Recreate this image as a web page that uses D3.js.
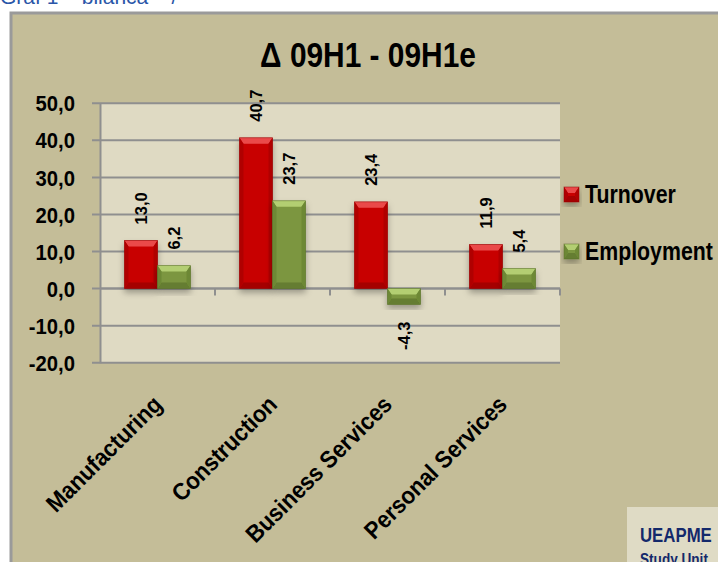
<!DOCTYPE html>
<html>
<head>
<meta charset="utf-8">
<script src="https://cdn.jsdelivr.net/npm/d3@7"></script>
<style>
  body { margin: 0; background: #fff; }
  svg { display: block; font-family: "Liberation Sans", Arial, sans-serif; }
</style>
</head>
<body>
<svg id="chart" width="718" height="562"></svg>
<script>
// data
const categories = ["Manufacturing", "Construction", "Business Services", "Personal Services"];
const series = ["Turnover", "Employment"];
const turnover = [13.0, 40.7, 23.4, 11.9];
const employment = [6.2, 23.7, -4.3, 5.4];
const yTicks = [-20, -10, 0, 10, 20, 30, 40, 50];

const colors = {
  Turnover: { main: "#c80000", top: "#ea4a4a", bottom: "#8e0000", side: "#b00000" },
  Employment: { main: "#7b963f", top: "#b3ce72", bottom: "#566c27", side: "#6d8836" }
};

const svg = d3.select("#chart");
const fmt = v => d3.format(".1f")(v).replace(".", ",").replace("\u2212", "-");

// page heading, cut off at the top
svg.append("text").attr("x", 0).attr("y", 4)
  .attr("font-size", 21).attr("fill", "#2a56a8")
  .text("Graf 1 – bilanca – /");

// outer chart box
svg.append("rect").attr("x", 11).attr("y", 13).attr("width", 720).attr("height", 560)
  .attr("fill", "#c4bd98").attr("stroke", "#9a9a9a").attr("stroke-width", 3);

const defs = svg.append("defs");
const f = defs.append("filter").attr("id", "shadow").attr("x", "-20%").attr("y", "-20%")
  .attr("width", "140%").attr("height", "150%");
f.append("feDropShadow").attr("dx", 0).attr("dy", 4).attr("stdDeviation", 3)
  .attr("flood-color", "#000").attr("flood-opacity", 0.3);

// scales
const x = d3.scaleBand().domain(categories).range([100, 560]);
const x1 = d3.scaleBand().domain(series).range([0, x.bandwidth()]).paddingOuter(0.742);
const y = d3.scaleLinear().domain([-20, 50]).range([362.7, 103.3]);

// plot area
svg.append("rect").attr("x", 100).attr("y", y(50)).attr("width", 460).attr("height", y(-20) - y(50))
  .attr("fill", "#dfdac3");

// gridlines
svg.append("g").selectAll("line").data(yTicks).join("line")
  .attr("x1", 92).attr("x2", 560).attr("y1", d => y(d)).attr("y2", d => y(d))
  .attr("stroke", "#8f8f8f").attr("stroke-width", 2);

// y axis
const yAxis = svg.append("g").attr("transform", "translate(100,0)")
  .call(d3.axisLeft(y).tickValues(yTicks).tickSize(0).tickFormat(""));
yAxis.select(".domain").attr("stroke", "#8f8f8f").attr("stroke-width", 2);
svg.append("g").selectAll("text").data(yTicks).join("text")
  .attr("transform", d => `translate(75,${y(d)}) scale(0.9,1)`)
  .attr("text-anchor", "end").attr("dy", "0.36em")
  .attr("font-size", 22.5).attr("font-weight", "bold")
  .text(fmt);

// x axis at zero
const xAxis = svg.append("g").attr("transform", `translate(0,${y(0)})`);
xAxis.append("line").attr("x1", 100).attr("x2", 560).attr("stroke", "#8f8f8f").attr("stroke-width", 2);
const bounds = categories.map(c => x(c)).concat([x.range()[1]]);
xAxis.selectAll("line.tick").data(bounds.slice(1)).join("line").attr("class", "tick")
  .attr("x1", d => d).attr("x2", d => d).attr("y1", 0).attr("y2", 7)
  .attr("stroke", "#8f8f8f").attr("stroke-width", 2);

// bevelled bar
function bevelBar(g, bx, by, bw, bh, c) {
  const b = Math.min(6, bh / 2), s = 4;
  const gg = g.append("g").attr("filter", "url(#shadow)");
  gg.append("rect").attr("x", bx).attr("y", by).attr("width", bw).attr("height", bh).attr("fill", c.main);
  const pts = a => a.map(p => p.join(",")).join(" ");
  gg.append("polygon").attr("points", pts([[bx, by], [bx + bw, by], [bx + bw - s, by + b], [bx + s, by + b]]))
    .attr("fill", c.top);
  gg.append("polygon").attr("points", pts([[bx, by + bh], [bx + bw, by + bh], [bx + bw - s, by + bh - b], [bx + s, by + bh - b]]))
    .attr("fill", c.bottom).attr("opacity", 0.6);
  gg.append("polygon").attr("points", pts([[bx, by], [bx + s, by + b], [bx + s, by + bh - b], [bx, by + bh]]))
    .attr("fill", c.side);
  gg.append("polygon").attr("points", pts([[bx + bw, by], [bx + bw - s, by + b], [bx + bw - s, by + bh - b], [bx + bw, by + bh]]))
    .attr("fill", c.side);
  gg.append("rect").attr("x", bx).attr("y", by).attr("width", bw).attr("height", bh)
    .attr("fill", "none").attr("stroke", c.bottom).attr("stroke-width", 0.8).attr("opacity", 0.6);
}

const values = { Turnover: turnover, Employment: employment };
const bars = svg.append("g");
const labels = svg.append("g");
series.forEach(s => {
  values[s].forEach((v, i) => {
    const bx = x(categories[i]) + x1(s);
    const bw = x1.bandwidth();
    const top = y(Math.max(0, v)), bot = y(Math.min(0, v));
    bevelBar(bars, bx, top, bw, bot - top, colors[s]);
    const cx = bx + bw / 2;
    const ly = v >= 0 ? top - 16 : bot + 17;
    labels.append("text")
      .attr("transform", `translate(${cx},${ly}) rotate(-90)`)
      .attr("text-anchor", v >= 0 ? "start" : "end")
      .attr("dy", "0.36em")
      .attr("font-size", 16.5).attr("font-weight", "bold")
      .text(fmt(v));
  });
});

// category labels
svg.append("g").selectAll("text").data(categories).join("text")
  .attr("transform", d => `translate(${x(d) + x.bandwidth() / 2 + 6},${406}) rotate(-45) scale(0.92,1)`)
  .attr("text-anchor", "end")
  .attr("font-size", 24).attr("font-weight", "bold")
  .text(d => d);

// title
svg.append("text")
  .attr("transform", "translate(368,67) scale(0.83,1)")
  .attr("text-anchor", "middle")
  .attr("font-size", 36).attr("font-weight", "bold")
  .text("Δ 09H1 - 09H1e");

// legend
const legend = svg.append("g");
series.forEach((s, i) => {
  const ly = [187, 244][i];
  bevelBar(legend, 564, ly, 15, 15, colors[s]);
  legend.append("text")
    .attr("transform", `translate(585,${ly + 16}) scale(0.82,1)`)
    .attr("font-size", 26).attr("font-weight", "bold")
    .text(s);
});

// logo box
svg.append("rect").attr("x", 627).attr("y", 507).attr("width", 100).attr("height", 60).attr("fill", "#dfdbc5");
svg.append("text").attr("transform", "translate(640,542) scale(0.8,1)")
  .attr("font-size", 21).attr("font-weight", "bold").attr("fill", "#14296b").text("UEAPME");
svg.append("text").attr("transform", "translate(640,565) scale(0.8,1)")
  .attr("font-size", 17).attr("font-weight", "bold").attr("fill", "#14296b").text("Study Unit");
</script>
</body>
</html>
